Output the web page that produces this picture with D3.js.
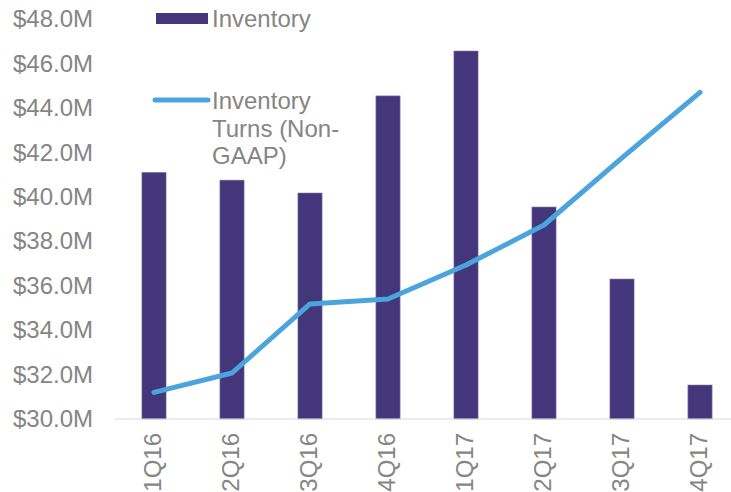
<!DOCTYPE html>
<html lang="en">
<head>
    <meta charset="UTF-8">
    <script src="https://d3js.org/d3.v7.min.js"></script>
    <style>
        body { margin: 0; background: #fff; }
        text { font-family: "Liberation Sans", Arial, sans-serif; fill: #858585; }
    </style>
</head>
<body>
    <div id="chart"></div>
    <script>
        var quarters = ["1Q16", "2Q16", "3Q16", "4Q16", "1Q17", "2Q17", "3Q17", "4Q17"];
        // inventory in $M
        var inventory = [41.1, 40.75, 40.17, 44.54, 46.56, 39.54, 36.3, 31.53];
        // turns line, shown against the same (hidden secondary) scale
        var turns = [31.2, 32.07, 35.18, 35.4, 36.93, 38.73, 41.75, 44.7];
        var yTicks = [30, 32, 34, 36, 38, 40, 42, 44, 46, 48];

        var width = 731,
            height = 492,
            fs = "24px";

        var svg = d3.select("#chart")
            .append("svg")
            .attr("width", width)
            .attr("height", height);

        var x = d3.scaleBand()
            .domain(quarters)
            .range([115, 739])
            .paddingInner(0.69)
            .paddingOuter(0.345);

        var y = d3.scaleLinear()
            .domain([30, 48])
            .range([419, 19]);

        // y labels
        svg.append("g")
            .attr("transform", "translate(93,0)")
            .call(d3.axisLeft(y).tickValues(yTicks).tickSize(0).tickPadding(0)
                .tickFormat(function (d) { return "$" + d3.format(".1f")(d) + "M"; }))
            .call(function (g) { g.select(".domain").remove(); })
            .selectAll("text")
            .style("font-size", fs)
            .style("font-family", null)
            .attr("fill", "#858585");
        svg.selectAll("g").attr("font-family", null).attr("font-size", null);

        // bars
        svg.selectAll("rect.bar")
            .data(inventory)
            .enter()
            .append("rect")
            .attr("class", "bar")
            .attr("x", function (d, i) { return x(quarters[i]); })
            .attr("width", x.bandwidth())
            .attr("y", function (d) { return y(d); })
            .attr("height", function (d) { return y(30) - y(d); })
            .attr("fill", "#43367a")
            .attr("stroke", "#8a80b0")
            .attr("stroke-width", 0.6);

        // baseline
        svg.append("line")
            .attr("x1", 115).attr("x2", width)
            .attr("y1", y(30)).attr("y2", y(30))
            .attr("stroke", "#d9d9d9")
            .attr("stroke-width", 1.2);

        // x labels
        svg.selectAll("text.xl")
            .data(quarters)
            .enter()
            .append("text")
            .attr("class", "xl")
            .attr("transform", function (d) {
                return "translate(" + (x(d) + x.bandwidth() / 2 + 7) + ",433) rotate(-90)";
            })
            .attr("text-anchor", "end")
            .style("font-size", fs)
            .text(function (d) { return d; });

        // turns line
        var line = d3.line()
            .x(function (d, i) { return x(quarters[i]) + x.bandwidth() / 2; })
            .y(function (d) { return y(d); });

        svg.append("path")
            .datum(turns)
            .attr("d", line)
            .attr("fill", "none")
            .attr("stroke", "#4ca4dd")
            .attr("stroke-width", 5)
            .attr("stroke-linecap", "round")
            .attr("stroke-linejoin", "round");

        // legend
        svg.append("rect")
            .attr("x", 156).attr("y", 13)
            .attr("width", 52).attr("height", 11)
            .attr("fill", "#43367a");
        svg.append("text")
            .attr("x", 212).attr("y", 27)
            .style("font-size", fs)
            .text("Inventory");

        svg.append("line")
            .attr("x1", 155).attr("x2", 208)
            .attr("y1", 100).attr("y2", 100)
            .attr("stroke", "#4ca4dd")
            .attr("stroke-width", 5)
            .attr("stroke-linecap", "round");
        var lt = svg.append("text")
            .attr("x", 212).attr("y", 109)
            .style("font-size", fs);
        ["Inventory", "Turns (Non-", "GAAP)"].forEach(function (s, i) {
            lt.append("tspan").attr("x", 212).attr("dy", i ? 27.7 : 0).text(s);
        });
    </script>
</body>
</html>
